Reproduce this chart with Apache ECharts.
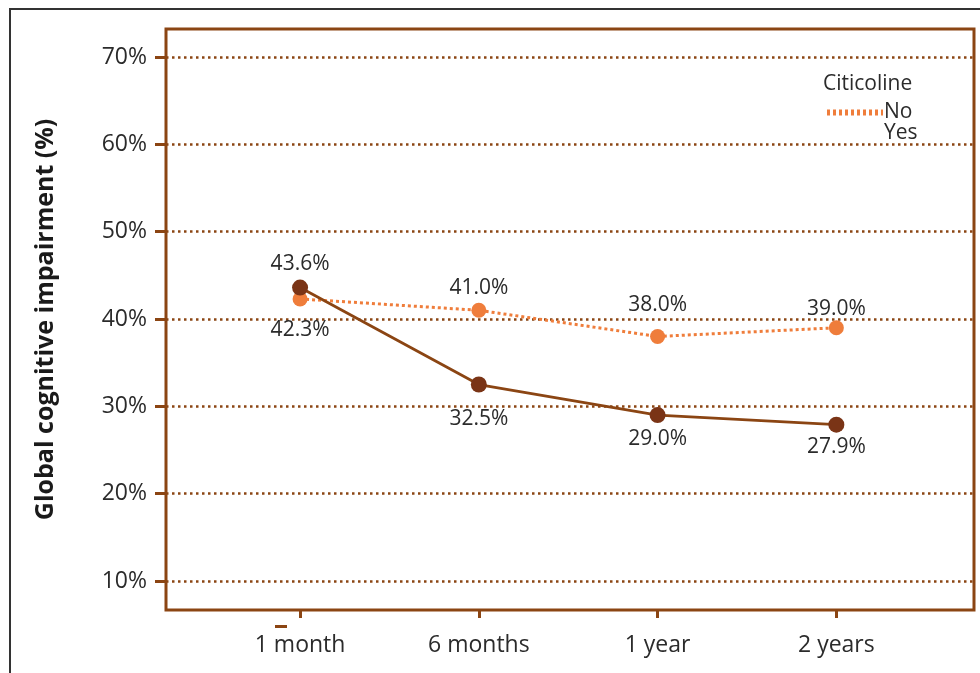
<!DOCTYPE html>
<html>
<head>
<meta charset="utf-8">
<script src="https://cdn.jsdelivr.net/npm/echarts@6/dist/echarts.min.js"></script>
<style>html,body{margin:0;padding:0;background:#fff}#c{width:980px;height:673px}</style>
</head>
<body>
<div id="c"></div>
<script>
const categories = ['1 month', '6 months', '1 year', '2 years'];
const yesValues = [43.6, 32.5, 29.0, 27.9];
const noValues = [42.3, 41.0, 38.0, 39.0];
const yTicks = [10, 20, 30, 40, 50, 60, 70];

const yesLabelPos = ['top', 'bottom', 'bottom', 'bottom'];
const yesLabelDist = [5, 16, 5, 4];
const noLabelPos = ['bottom', 'top', 'top', 'top'];
const noLabelDist = [13, 4, 13, 1];

const brown = '#8B4513';
const darkBrown = '#7A3416';
const orange = '#EF7D3B';
const textColor = '#2b2b2b';
const font = 'Open Sans';

function toData(vals, pos, dist) {
  return vals.map((v, i) => ({
    value: [i, v],
    label: { position: pos[i], distance: dist[i] }
  }));
}

const chart = echarts.init(document.getElementById('c'), null, { renderer: 'canvas' });
chart.setOption({
  animation: false,
  backgroundColor: '#fff',
  textStyle: { fontFamily: font },
  title: {
    text: 'Citicoline',
    left: 818, top: 69,
    textStyle: { fontSize: 21, fontWeight: 'normal', color: textColor, fontFamily: font }
  },
  legend: {
    orient: 'vertical',
    left: 819, top: 97,
    itemWidth: 56, itemHeight: 14, itemGap: 0,
    textStyle: { fontSize: 21, lineHeight: 20, color: textColor, fontFamily: font, padding: [0, 0, 0, -4] },
    data: [
      { name: 'No', itemStyle: { opacity: 0 }, lineStyle: { type: [3, 3], width: 6, color: orange } },
      { name: 'Yes', itemStyle: { opacity: 0 }, lineStyle: { opacity: 0 } }
    ]
  },
  grid: {
    left: 166, top: 29, right: 6, bottom: 63,
    show: true, borderColor: brown, borderWidth: 3, backgroundColor: 'transparent'
  },
  xAxis: {
    type: 'value',
    min: -0.75, max: 3.77,
    axisLine: { show: false, onZero: false },
    splitLine: { show: false },
    axisTick: { show: true, customValues: [0, 1, 2, 3], length: 8, lineStyle: { color: brown, width: 3 } },
    axisLabel: {
      customValues: [0, 1, 2, 3],
      formatter: v => categories[Math.round(v)],
      fontSize: 23, color: textColor, margin: 24, fontFamily: font
    }
  },
  yAxis: {
    type: 'value',
    min: 6.68, max: 73.21,
    name: 'Global cognitive impairment (%)',
    nameLocation: 'middle',
    nameGap: 108,
    nameTextStyle: { fontSize: 25, fontWeight: 'bold', color: '#1a1a1a', fontFamily: font },
    axisLine: { show: false, onZero: false },
    axisTick: { show: true, customValues: yTicks, length: 11, lineStyle: { color: brown, width: 3 } },
    axisLabel: {
      customValues: yTicks,
      formatter: v => v + '%',
      fontSize: 23, color: textColor, margin: 19, fontFamily: font
    },
    splitLine: { show: true, lineStyle: { color: brown, width: 2.5, type: [2.5, 3.5] } }
  },
  graphic: [
    { type: 'rect', shape: { x: 10, y: 9, width: 1100, height: 800 }, style: { fill: 'none', stroke: '#333', lineWidth: 2 }, silent: true, z: -1 },
    { type: 'rect', shape: { x: 275, y: 625, width: 12, height: 3 }, style: { fill: brown }, silent: true }
  ],
  series: [
    {
      name: 'No', type: 'line',
      data: toData(noValues, noLabelPos, noLabelDist),
      symbol: 'circle', symbolSize: 15,
      itemStyle: { color: orange },
      lineStyle: { color: orange, width: 3, type: [3, 3] },
      label: { show: true, formatter: p => p.value[1].toFixed(1) + '%', fontSize: 21, color: textColor, fontFamily: font },
      z: 2
    },
    {
      name: 'Yes', type: 'line',
      data: toData(yesValues, yesLabelPos, yesLabelDist),
      symbol: 'circle', symbolSize: 16,
      itemStyle: { color: darkBrown },
      lineStyle: { color: brown, width: 2.8 },
      label: { show: true, formatter: p => p.value[1].toFixed(1) + '%', fontSize: 21, color: textColor, fontFamily: font },
      z: 3
    }
  ]
});
</script>
</body>
</html>
